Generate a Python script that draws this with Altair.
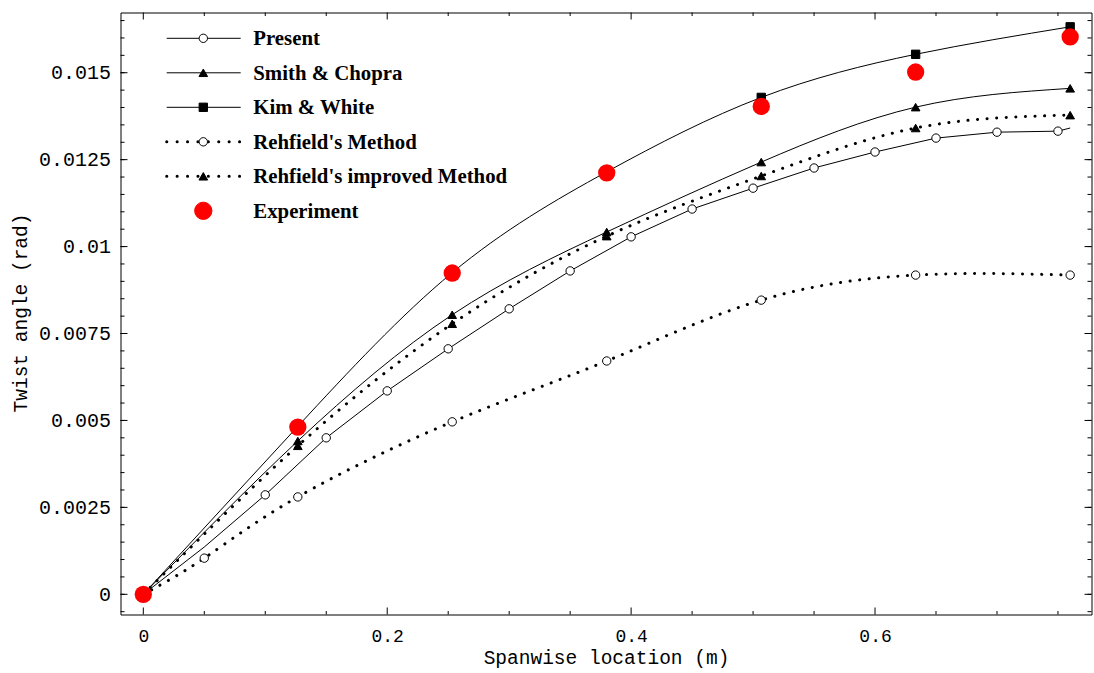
import altair as alt
import pandas as pd

# ---- data -----------------------------------------------------------------
# spanwise stations (m) shared by experiment and reference methods
x_stations = [0.0, 0.1267, 0.2533, 0.38, 0.5067, 0.6333, 0.76]

y_experiment = [0.0, 0.00481, 0.00924, 0.01212, 0.01403, 0.01502, 0.01603]
y_kim_white = [0.0, 0.00483, 0.00925, 0.01215, 0.01429, 0.01553, 0.01632]
y_smith_chopra = [0.0, 0.00441, 0.00804, 0.01042, 0.01243, 0.01401, 0.01455]
y_rehfield_improved = [0.0, 0.00427, 0.00778, 0.0103, 0.01203, 0.01341, 0.01378]

x_rehfield = [0.0, 0.05, 0.1267, 0.2533, 0.38, 0.5067, 0.6333, 0.76]
y_rehfield = [0.0, 0.00104, 0.0028, 0.00496, 0.00671, 0.00846, 0.00918, 0.00918]

x_present = [0.0, 0.05, 0.10, 0.15, 0.20, 0.25, 0.30, 0.35, 0.40, 0.45,
             0.50, 0.55, 0.60, 0.65, 0.70, 0.75, 0.76]
y_present = [0.0, 0.00136, 0.00286, 0.0045, 0.00585, 0.00706, 0.00821, 0.0093,
             0.01028, 0.01108, 0.01168, 0.01226, 0.01272, 0.01312, 0.01329,
             0.01332, 0.01341]
present_marked = [False, False] + [True] * 14 + [False]

# axis ticks
x_major = [0.0, 0.2, 0.4, 0.6]
x_minor = [0.05, 0.1, 0.15, 0.25, 0.3, 0.35, 0.45, 0.5, 0.55, 0.65, 0.7, 0.75]
y_major = [0.0, 0.0025, 0.005, 0.0075, 0.01, 0.0125, 0.015]
y_minor = [round(-0.0005 + 0.0005 * i, 4) for i in range(35)]

legend_labels = ["Present", "Smith & Chopra", "Kim & White",
                 "Rehfield's Method", "Rehfield's improved Method", "Experiment"]
legend_line = ["solid", "solid", "solid", "dotted", "dotted", "none"]
legend_shape = ["circle", "triangle-up", "square", "circle", "triangle-up", "circle"]
legend_fill = ["white", "black", "black", "white", "black", "red"]
legend_stroke = ["black", "black", "black", "black", "black", "red"]
legend_size = [70, 75, 70, 70, 75, 300]

# ---- tables ----------------------------------------------------------------
rows = []
for name, xs, ys, marks in [
    ("Present", x_present, y_present, present_marked),
    ("Smith & Chopra", x_stations, y_smith_chopra, [True] * 7),
    ("Kim & White", x_stations, y_kim_white, [True] * 7),
    ("Rehfield's Method", x_rehfield, y_rehfield, [True] * 8),
    ("Rehfield's improved Method", x_stations, y_rehfield_improved, [True] * 7),
    ("Experiment", x_stations, y_experiment, [True] * 7),
]:
    for xv, yv, m in zip(xs, ys, marks):
        rows.append({"x": xv, "y": yv, "series": name, "marked": m})
df = pd.DataFrame(rows)

W, H = 971, 602
LEG_Y0, LEG_DY = 25.8, 34.5
legend_df = pd.DataFrame({
    "label": legend_labels,
    "line": legend_line,
    "shape": legend_shape,
    "fill": legend_fill,
    "stroke": legend_stroke,
    "size": legend_size,
    "ly": [LEG_Y0 + LEG_DY * i for i in range(len(legend_labels))],
})
legend_df["lx0"] = 46.2
legend_df["lx1"] = 120.2
legend_df["mx"] = 82.8
legend_df["tx"] = 132.8

MONO = "Liberation Mono"
SERIF = "Liberation Serif"

x_scale = alt.Scale(domain=[-0.0187, 0.7775], nice=False, zero=False)
y_scale = alt.Scale(domain=[-0.000581, 0.016732], nice=False, zero=False)

x_axis = alt.Axis(values=x_major, labelExpr="format(datum.value, '.1~f')",
                  ticks=False, tickSize=0, domain=False,
                  grid=False, labelFont=MONO, labelFontSize=18, labelColor="black",
                  labelBaseline="middle", labelPadding=22, labelFlush=False,
                  title="Spanwise location (m)", titleFont=MONO, titleFontSize=19.5,
                  titleFontWeight="normal", titleColor="black",
                  titleBaseline="alphabetic", titleY=49)
y_axis = alt.Axis(values=y_major, labelExpr="format(datum.value, '.4~f')",
                  ticks=False, tickSize=0, domain=False,
                  grid=False, labelFont=MONO, labelFontSize=20, labelColor="black",
                  labelPadding=10, labelFlush=False,
                  title="Twist angle (rad)", titleFont=MONO, titleFontSize=19.5,
                  titleFontWeight="normal", titleColor="black",
                  titleBaseline="middle", titleAlign="center",
                  titleX=-100, titleY=300)


def X(field="x"):
    return alt.X(f"{field}:Q", scale=x_scale, axis=x_axis)


def Y(field="y"):
    return alt.Y(f"{field}:Q", scale=y_scale, axis=y_axis)


base = alt.Chart(df)


def series_line(name, dotted=False, interp="natural"):
    if dotted:
        style = dict(color="black", strokeWidth=3, strokeDash=[0.1, 9.5],
                     strokeCap="round", interpolate=interp)
    else:
        style = dict(color="black", strokeWidth=1, interpolate=interp)
    return base.transform_filter(alt.datum.series == name).mark_line(
        **style
    ).encode(x=X(), y=Y(), order="x:Q")


lines = [
    series_line("Present", interp="linear"),
    series_line("Smith & Chopra"),
    series_line("Kim & White"),
    series_line("Rehfield's Method", dotted=True),
    series_line("Rehfield's improved Method", dotted=True),
]


def series_points(name, shape, fill, size):
    return base.transform_filter(
        (alt.datum.series == name) & alt.datum.marked
    ).mark_point(shape=shape, filled=True, fill=fill, stroke="black",
                 strokeWidth=1, size=size, opacity=1).encode(x=X(), y=Y())


points = [
    series_points("Kim & White", "square", "black", 70),
    series_points("Smith & Chopra", "triangle-up", "black", 75),
    series_points("Rehfield's improved Method", "triangle-up", "black", 75),
    series_points("Present", "circle", "white", 70),
    series_points("Rehfield's Method", "circle", "white", 70),
]

experiment = base.transform_filter(alt.datum.series == "Experiment").mark_circle(
    color="red", size=300, opacity=1
).encode(x=X(), y=Y())


# inward-pointing tick marks on all four sides of the frame
def xticks(values, length):
    d = alt.Chart(pd.DataFrame({"x": values}))
    bottom = d.mark_rule(color="black", strokeWidth=1).encode(
        x=X(), y=alt.value(H), y2=alt.value(H - length))
    top = d.mark_rule(color="black", strokeWidth=1).encode(
        x=X(), y=alt.value(0), y2=alt.value(length))
    return [bottom, top]


def yticks(values, length):
    d = alt.Chart(pd.DataFrame({"y": values}))
    left = d.mark_rule(color="black", strokeWidth=1).encode(
        y=Y(), x=alt.value(0), x2=alt.value(length))
    right = d.mark_rule(color="black", strokeWidth=1).encode(
        y=Y(), x=alt.value(W), x2=alt.value(W - length))
    return [left, right]


ticks = xticks(x_major, 7) + xticks(x_minor, 3.5) + yticks(y_major, 7) + yticks(y_minor, 4)

# in-plot key
leg = alt.Chart(legend_df)
leg_solid = leg.transform_filter(alt.datum.line == "solid").mark_rule(
    color="black", strokeWidth=1
).encode(x=alt.X("lx0:Q", scale=None, axis=None), x2="lx1:Q",
         y=alt.Y("ly:Q", scale=None, axis=None))
leg_dotted = leg.transform_filter(alt.datum.line == "dotted").mark_rule(
    color="black", strokeWidth=3, strokeDash=[0.1, 10.3], strokeCap="round"
).encode(x=alt.X("lx0:Q", scale=None, axis=None), x2="lx1:Q",
         y=alt.Y("ly:Q", scale=None, axis=None))
leg_marks = leg.mark_point(filled=True, strokeWidth=1, opacity=1).encode(
    x=alt.X("mx:Q", scale=None, axis=None),
    y=alt.Y("ly:Q", scale=None, axis=None),
    shape=alt.Shape("shape:N", scale=None),
    fill=alt.Fill("fill:N", scale=None),
    stroke=alt.Stroke("stroke:N", scale=None),
    size=alt.Size("size:Q", scale=None),
)
leg_text = leg.mark_text(align="left", baseline="middle", font=SERIF,
                         fontSize=20.8, fontWeight="bold", color="black", dy=1).encode(
    x=alt.X("tx:Q", scale=None, axis=None),
    y=alt.Y("ly:Q", scale=None, axis=None),
    text="label:N",
)

chart = alt.layer(
    *lines, *points, experiment, *ticks, leg_solid, leg_dotted, leg_marks, leg_text
).properties(
    width=W, height=H,
    autosize=alt.AutoSizeParams(type="none"),
    padding={"left": 120.5, "top": 12.5, "right": 2.5, "bottom": 58.5},
    background="white",
).configure_view(stroke="black", strokeWidth=1)

chart.save("out.html", embed_options={"renderer": "svg", "actions": False})
